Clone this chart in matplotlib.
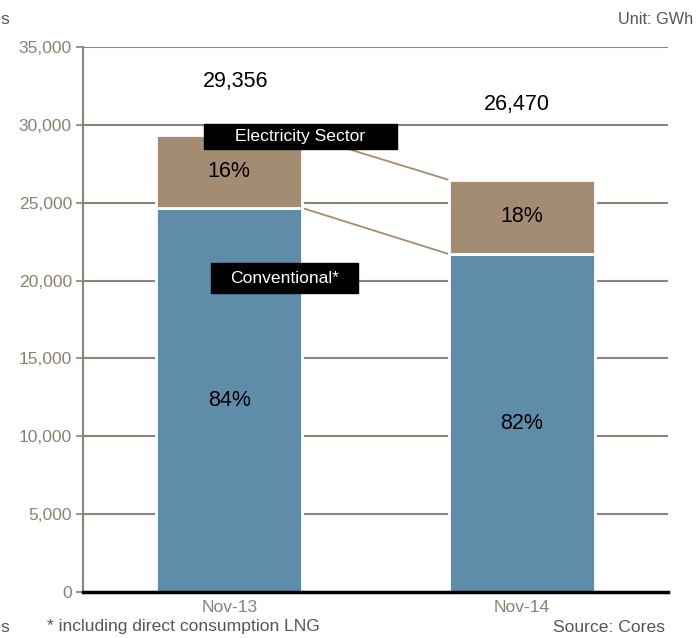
import matplotlib

matplotlib.use("Agg")
import matplotlib.pyplot as plt
from matplotlib.patches import Rectangle

# values (GWh)
months = ["Nov-13", "Nov-14"]
conventional = [24659, 21705]
electricity = [4697, 4765]
yticks = [0, 5000, 10000, 15000, 20000, 25000, 30000, 35000]

BLUE = "#5f8ca8"
TAN = "#a48c72"
GREY = "#8b8170"
GRID = "#8e8474"

plt.rcParams["font.family"] = ["Liberation Sans", "DejaVu Sans"]

fig = plt.figure(figsize=(6.97, 6.38), dpi=100)
ax = fig.add_axes([83 / 697, 46 / 638, 585 / 697, 545 / 638])

x = list(range(len(months)))
totals = [c + e for c, e in zip(conventional, electricity)]
w = 0.5

for yv in yticks[1:]:
    ax.axhline(yv, color=GRID, lw=1.5, zorder=1)

ax.bar(x, conventional, width=w, color=BLUE, edgecolor="white", lw=2, zorder=3)
ax.bar(x, electricity, width=w, bottom=conventional, color=TAN, edgecolor="white",
       lw=2, zorder=3)

# connectors between the two bars
ax.plot([x[0] + w / 2, x[1] - w / 2], [totals[0], totals[1]], color=TAN, lw=1.3, zorder=2)
ax.plot([x[0] + w / 2, x[1] - w / 2], [conventional[0], conventional[1]], color=TAN,
        lw=1.3, zorder=2)

for i in x:
    ax.text(i, conventional[i] / 2, f"{conventional[i] / totals[i]:.0%}", ha="center",
            va="center", fontsize=15.5, zorder=4)
    ax.text(i, conventional[i] + electricity[i] / 2, f"{electricity[i] / totals[i]:.0%}",
            ha="center", va="center", fontsize=15.5, zorder=4)

# totals sit a little off-centre in the original
ax.text(x[0] + 0.022, totals[0] + 3450, f"{totals[0]:,}", ha="center", va="center",
        fontsize=15.5)
ax.text(x[1] - 0.017, totals[1] + 4850, f"{totals[1]:,}", ha="center", va="center",
        fontsize=15.5)

# black legend boxes
ax.add_patch(Rectangle((-0.086, 28450), 0.66, 1605, color="black", zorder=5))
ax.text(0.244, 29252, "Electricity Sector", color="white", ha="center", va="center",
        fontsize=12.6, zorder=6)
ax.add_patch(Rectangle((-0.062, 19202), 0.502, 1926, color="black", zorder=5))
ax.text(0.189, 20165, "Conventional*", color="white", ha="center", va="center",
        fontsize=12.6, zorder=6)

ax.set_xlim(-0.5, 1.5)
ax.set_ylim(0, 35000)
ax.set_yticks(yticks)
ax.set_yticklabels([f"{v:,}" for v in yticks], color=GREY, fontsize=12.6)
ax.tick_params(axis="y", length=5, color=GRID, width=1.2, pad=3)
ax.set_xticks(x)
ax.set_xticklabels(months, color=GREY, fontsize=12.6)
ax.tick_params(axis="x", length=0, pad=6)

for s in ("top", "right"):
    ax.spines[s].set_visible(False)
ax.spines["left"].set_color(GRID)
ax.spines["left"].set_linewidth(1.5)
ax.spines["bottom"].set_color("black")
ax.spines["bottom"].set_linewidth(2.5)
ax.spines["bottom"].set_zorder(4)

fig.text(9 / 697, 1 - 19 / 638, "s", ha="right", va="center", fontsize=12.6, color="#555555")
fig.text(693 / 697, 1 - 19 / 638, "Unit: GWh", ha="right", va="center", fontsize=11.7,
         color="#555555")
fig.text(9 / 697, 1 - 627 / 638, "s", ha="right", va="center", fontsize=12.6, color="#555555")
fig.text(47 / 697, 1 - 627 / 638, "* including direct consumption LNG", ha="left",
         va="center", fontsize=12.6, color="#555555")
fig.text(665 / 697, 1 - 627 / 638, "Source: Cores", ha="right", va="center", fontsize=12.6,
         color="#555555")

fig.savefig("out.png", dpi=100)
